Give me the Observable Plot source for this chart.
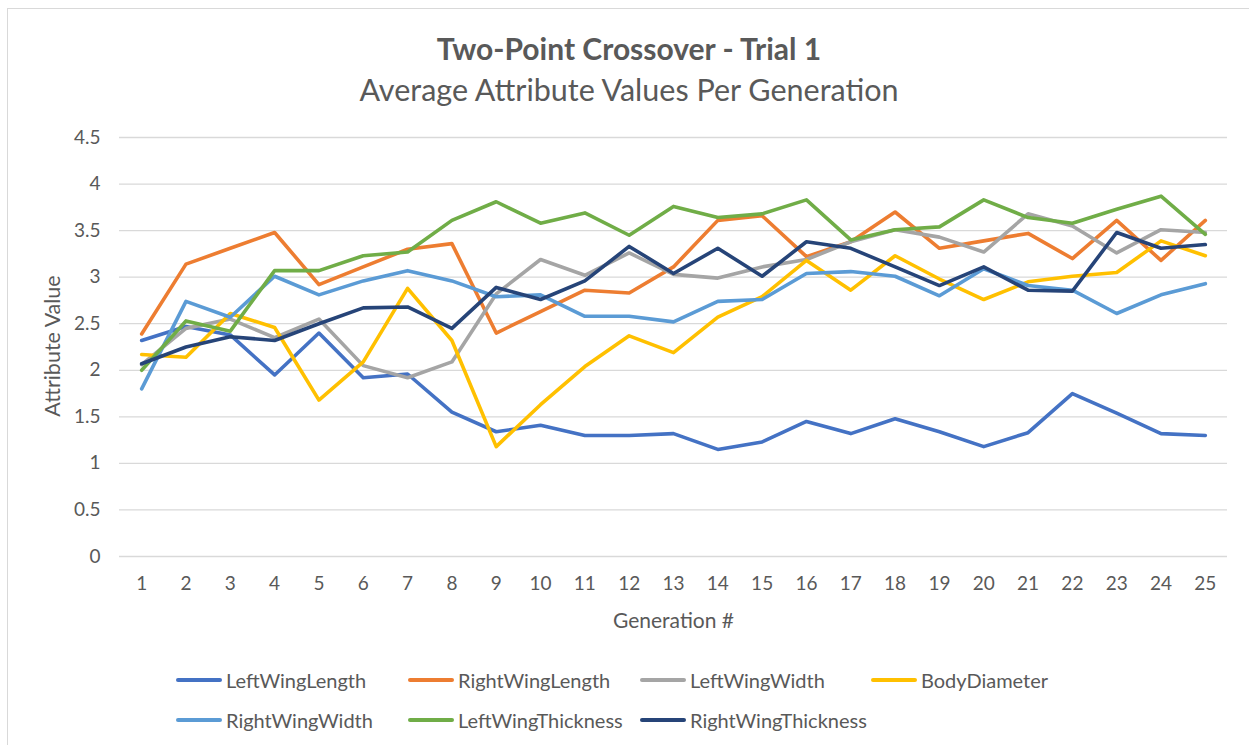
<!DOCTYPE html>
<html><head><meta charset="utf-8">
<script src="https://cdn.jsdelivr.net/npm/d3@7"></script>
<script src="https://cdn.jsdelivr.net/npm/@observablehq/plot@0.6"></script>
<style>
body{margin:0;background:#fff;font-family:Lato,"Open Sans",sans-serif;color:#595959;}
#wrap{position:relative;width:1249px;height:745px;overflow:hidden;background:#fff;}
#frame{position:absolute;left:7px;top:8px;width:1250px;height:745px;border:1px solid #d9d9d9;box-sizing:border-box;}
#plot{position:absolute;left:0;top:0;}
#title{position:absolute;left:0;width:1258px;top:30px;text-align:center;font-weight:bold;font-size:30px;line-height:36px;color:#595959;}
#subtitle{position:absolute;left:0;width:1258px;top:71px;text-align:center;font-size:30.5px;line-height:36px;color:#595959;}
#ylabel{position:absolute;left:52px;top:346px;transform:translate(-50%,-50%) rotate(-90deg);font-size:21.5px;line-height:24px;white-space:nowrap;color:#595959;}
.leg{position:absolute;display:flex;align-items:center;font-size:20px;line-height:22px;color:#595959;white-space:nowrap;}
.sw{width:46px;height:4px;margin-right:4px;border-radius:2px;}
</style>
</head><body>
<div id="wrap">
  <div id="frame"></div>
  <div id="plot"></div>
  <div id="title">Two-Point Crossover - Trial 1</div>
  <div id="subtitle">Average Attribute Values Per Generation</div>
  <div id="ylabel">Attribute Value</div>
  <div id="legend"></div>
</div>
<script>
const generations = d3.range(1, 26);
const seriesNames = ["LeftWingLength","RightWingLength","LeftWingWidth","BodyDiameter","RightWingWidth","LeftWingThickness","RightWingThickness"];
const seriesColors = ["#4472C4","#ED7D31","#A5A5A5","#FFC000","#5B9BD5","#70AD47","#264478"];
const yTicks = [0,0.5,1,1.5,2,2.5,3,3.5,4,4.5];

const leftWingLength     = [2.32,2.47,2.38,1.95,2.40,1.92,1.96,1.55,1.34,1.41,1.30,1.30,1.32,1.15,1.23,1.45,1.32,1.48,1.34,1.18,1.33,1.75,1.54,1.32,1.30];
const rightWingLength    = [2.39,3.14,3.31,3.48,2.92,3.11,3.30,3.36,2.40,2.63,2.86,2.83,3.11,3.61,3.66,3.22,3.38,3.70,3.31,3.39,3.47,3.20,3.61,3.18,3.61];
const leftWingWidth      = [2.06,2.45,2.55,2.35,2.55,2.05,1.92,2.09,2.82,3.19,3.02,3.26,3.03,2.99,3.11,3.19,3.38,3.51,3.43,3.27,3.68,3.55,3.26,3.51,3.48];
const bodyDiameter       = [2.17,2.14,2.61,2.46,1.68,2.09,2.88,2.32,1.18,1.63,2.04,2.37,2.19,2.57,2.79,3.18,2.86,3.23,2.98,2.76,2.95,3.01,3.05,3.39,3.23];
const rightWingWidth     = [1.80,2.74,2.57,3.01,2.81,2.96,3.07,2.96,2.79,2.81,2.58,2.58,2.52,2.74,2.76,3.04,3.06,3.01,2.80,3.09,2.91,2.86,2.61,2.81,2.93];
const leftWingThickness  = [2.00,2.53,2.42,3.07,3.07,3.23,3.27,3.61,3.81,3.58,3.69,3.45,3.76,3.64,3.68,3.83,3.40,3.51,3.54,3.83,3.64,3.58,3.73,3.87,3.46];
const rightWingThickness = [2.07,2.25,2.36,2.32,2.50,2.67,2.68,2.45,2.89,2.76,2.96,3.33,3.04,3.31,3.01,3.38,3.31,3.11,2.91,3.11,2.86,2.85,3.48,3.31,3.35];

const seriesValues = [leftWingLength,rightWingLength,leftWingWidth,bodyDiameter,rightWingWidth,leftWingThickness,rightWingThickness];

const data = [];
seriesNames.forEach((name, i) => {
  seriesValues[i].forEach((v, j) => data.push({series: name, gen: generations[j], value: v}));
});

const chart = Plot.plot({
  width: 1249,
  height: 640,
  marginLeft: 119,
  marginRight: 22,
  marginTop: 137,
  marginBottom: 84,
  style: {fontFamily: "Lato, 'Open Sans', sans-serif", fontSize: "20px", color: "#595959", background: "transparent"},
  x: {domain: [0.5, 25.5], axis: null},
  y: {domain: [0, 4.5], axis: null},
  color: {domain: seriesNames, range: seriesColors},
  marks: [
    Plot.gridY(yTicks, {stroke: "#d9d9d9", strokeOpacity: 1, strokeWidth: 1.3}),
    Plot.axisY(yTicks, {label: null, tickSize: 0, tickPadding: 19, tickFormat: d => String(d), fontSize: 19, fill: "#595959"}),
    Plot.axisX(generations, {label: null, tickSize: 0, tickPadding: 20, tickFormat: d => String(d), fontSize: 19, fill: "#595959"}),
    Plot.text(["Generation #"], {frameAnchor: "bottom", dy: 71, fontSize: 21, fill: "#595959"}),
    Plot.line(data, {x: "gen", y: "value", z: "series", stroke: "series", strokeWidth: 3.6, strokeLinejoin: "round", strokeLinecap: "round"})
  ]
});
document.getElementById("plot").appendChild(chart);

const legendLeft = [176, 408, 640, 871, 176, 408, 640];
const legendTop  = [669, 669, 669, 669, 709, 709, 709];
const legend = document.getElementById("legend");
seriesNames.forEach((name, i) => {
  const item = document.createElement("div");
  item.className = "leg";
  item.style.left = legendLeft[i] + "px";
  item.style.top = legendTop[i] + "px";
  item.innerHTML = `<div class="sw" style="background:${seriesColors[i]}"></div><span>${name}</span>`;
  legend.appendChild(item);
});
</script>
</body></html>
